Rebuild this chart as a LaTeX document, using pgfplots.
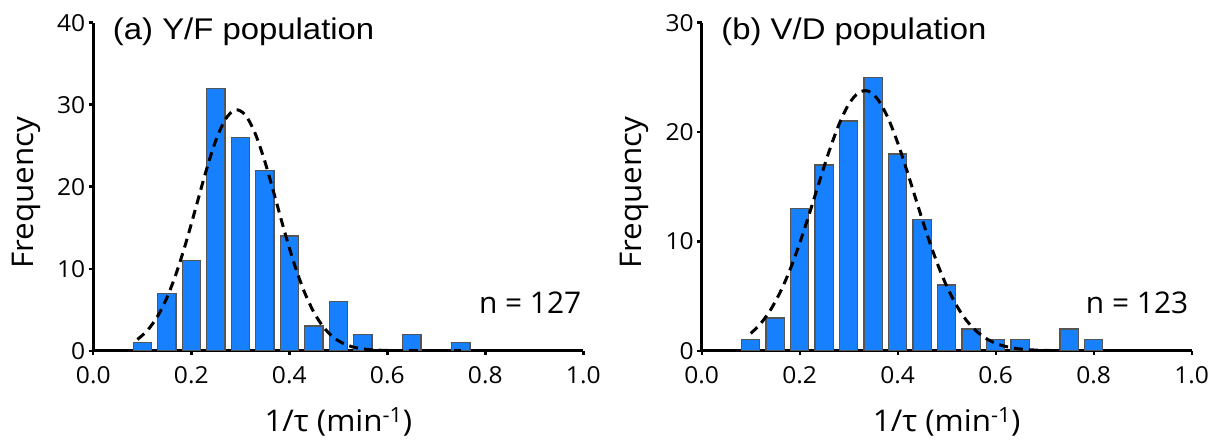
\documentclass[border=0pt]{standalone}
\usepackage{fontspec}
\setmainfont{Open Sans}[FakeStretch=1.05]
\newfontfamily\titlefont{Liberation Sans}[FakeStretch=1.1]
\newfontfamily\nfont{Open Sans}
\usepackage{pgfplots}
\pgfplotsset{compat=1.18}

\definecolor{barblue}{RGB}{23,128,255}
\definecolor{baredge}{RGB}{85,85,85}

\pgfplotsset{
  histo/.style={
    scale only axis, width=490bp, height=328bp,
    clip mode=individual,
    axis x line*=bottom, axis y line*=left,
    axis line style={line width=2.8bp},
    xmin=0, xmax=1, ymin=0,
    xtick={0,0.2,0.4,0.6,0.8,1},
    xticklabels={0.0,0.2,0.4,0.6,0.8,1.0},
    tick align=outside, major tick length=4.5bp,
    tick style={line width=2.4bp, black},
    /pgf/number format/assume math mode=true,
    tick label style={font=\fontsize{23.5}{27}\selectfont},
    xticklabel style={yshift=-8bp},
    xlabel={1/τ (min\textsuperscript{-1})},
    ylabel={Frequency},
    label style={font=\fontsize{30}{34}\selectfont},
    xlabel style={at={(axis description cs:0.5,-0.245)}, anchor=base},
    ylabel style={at={(axis description cs:-0.137,0.482)}, anchor=center},
  },
  bars/.style={ybar, bar shift=0pt, bar width=0.037, fill=barblue,
    draw=baredge, line width=1.4bp},
  fit/.style={black, line width=3bp, dash pattern=on 9bp off 6bp, smooth},
}

\begin{document}
\begin{tikzpicture}
\useasboundingbox (-93.3bp,-90.3bp) rectangle (1119.7bp,350.7bp);

% (a) Y/F
\begin{axis}[histo, ymax=40, ytick={0,10,20,30,40}]
  \addplot[bars] coordinates {
    (0.10,1) (0.15,7) (0.20,11) (0.25,32) (0.30,26) (0.35,22) (0.40,14)
    (0.45,3) (0.50,6) (0.55,2) (0.65,2) (0.75,1)};
  \addplot[fit] coordinates {
    (0.09,1.37) (0.11,2.44) (0.13,4.08) (0.15,6.43) (0.17,9.55) (0.19,13.36)
    (0.21,17.61) (0.23,21.89) (0.25,25.62) (0.27,28.26) (0.29,29.38)
    (0.31,28.77) (0.33,26.55) (0.35,23.09) (0.37,18.92) (0.39,14.60)
    (0.41,10.62) (0.43,7.28) (0.45,4.70) (0.47,2.86) (0.49,1.64) (0.51,0.89)
    (0.53,0.45) (0.55,0.22) (0.57,0.10) (0.60,0.03) (0.65,0.0) (0.70,0.0) (0.75,0.0)};
  \node[anchor=base west, font=\titlefont\fontsize{30}{34}\selectfont]
    at (rel axis cs:0.033,0.949) {(a) Y/F population};
  \node[anchor=base east, font=\nfont\fontsize{30}{34}\selectfont]
    at (rel axis cs:1.003,0.114) {n = 127};
\end{axis}

% (b) V/D
\begin{axis}[histo, at={(608.4bp,0)}, ymax=30, ytick={0,10,20,30}]
  \addplot[bars] coordinates {
    (0.10,1) (0.15,3) (0.20,13) (0.25,17) (0.30,21) (0.35,25) (0.40,18)
    (0.45,12) (0.50,6) (0.55,2) (0.60,1) (0.65,1) (0.75,2) (0.80,1)};
  \addplot[fit] coordinates {
    (0.10,1.58) (0.12,2.46) (0.14,3.70) (0.16,5.33) (0.18,7.38) (0.20,9.83)
    (0.22,12.57) (0.24,15.44) (0.26,18.23) (0.28,20.68) (0.30,22.54)
    (0.32,23.60) (0.34,23.74) (0.36,22.95) (0.38,21.31) (0.40,19.01)
    (0.42,16.30) (0.44,13.43) (0.46,10.62) (0.48,8.08) (0.50,5.90) (0.52,4.14)
    (0.54,2.79) (0.56,1.81) (0.58,1.13) (0.60,0.67) (0.62,0.39) (0.64,0.21)
    (0.66,0.11) (0.68,0.06) (0.70,0.03) (0.73,0.0)};
  \node[anchor=base west, font=\titlefont\fontsize{30}{34}\selectfont]
    at (rel axis cs:0.033,0.949) {(b) V/D population};
  \node[anchor=base east, font=\nfont\fontsize{30}{34}\selectfont]
    at (rel axis cs:1.0,0.114) {n = 123};
\end{axis}
\end{tikzpicture}
\end{document}
